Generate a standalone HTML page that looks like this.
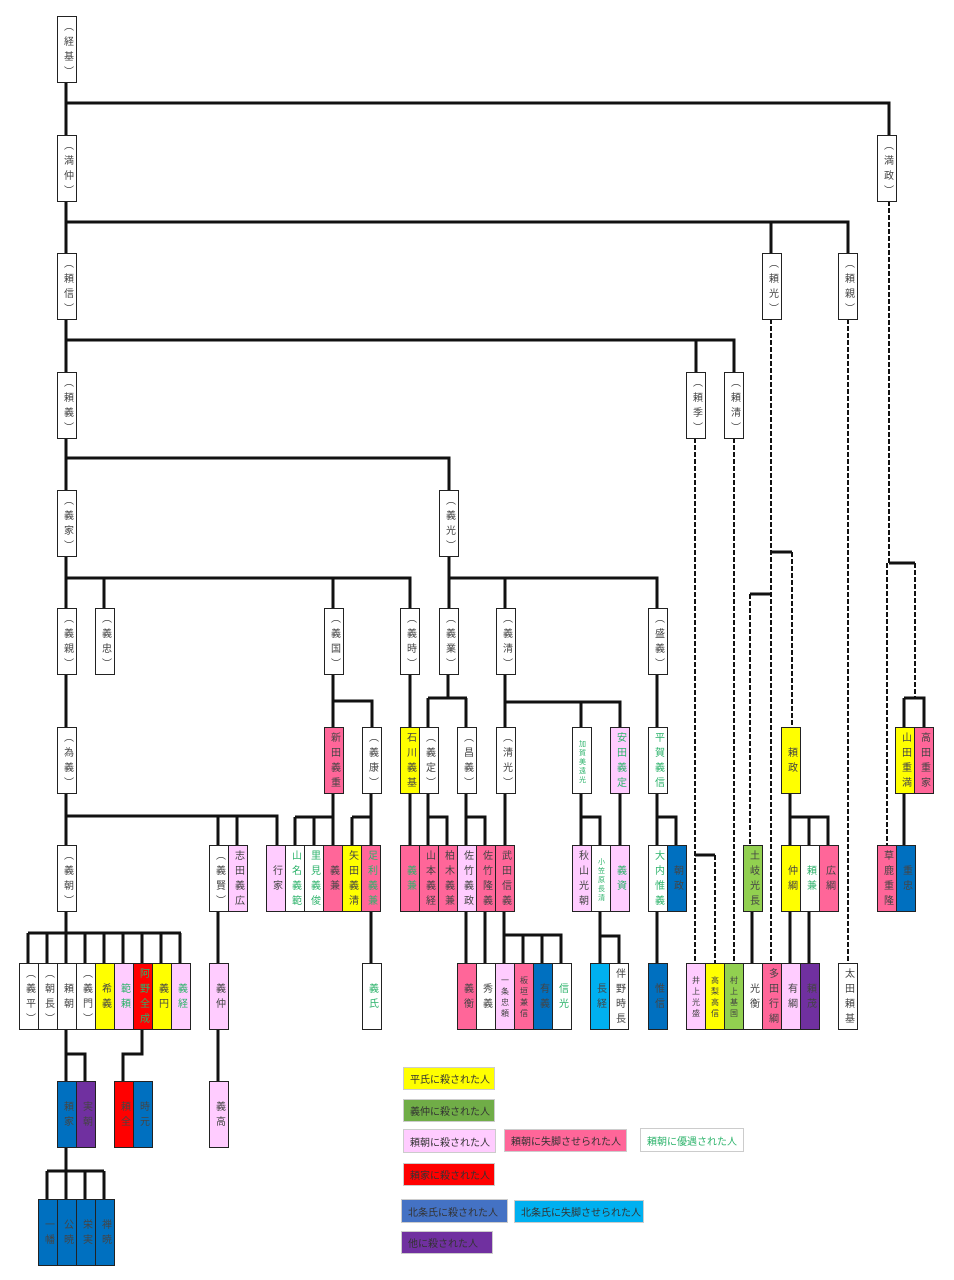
<!DOCTYPE html>
<html><head><meta charset="utf-8"><style>
body{margin:0;width:954px;height:1280px;background:#fff;position:relative;overflow:hidden;font-family:"Liberation Sans","Noto Sans CJK JP",sans-serif}
svg{position:absolute;left:0;top:0}
.b{position:absolute;box-sizing:border-box;width:20px;height:67px;border:1.5px solid #222;background:#fff;writing-mode:vertical-rl;display:flex;align-items:center;justify-content:center;font-size:10px;letter-spacing:5px;color:#444;line-height:17px;padding-top:3px}
.s{font-size:8px;letter-spacing:3px}
.xs{font-size:7px;letter-spacing:2px}
.r0{top:16px}.r1{top:135px}.r2{top:253px}.r3{top:372px}.r4{top:490px}.r5{top:608px}.r6{top:727px}.r7{top:845px}.r8{top:963px}.r9{top:1081px}.r10{top:1199px}
.Y{background:#ffff00}.P{background:#ff6699}.L{background:#ffccff}.B{background:#0070c0}.C{background:#00b0f0}.R{background:#ff0000}.V{background:#7030a0}.G{background:#92d050}
.g{color:#2db36b}
.lg{position:absolute;box-sizing:border-box;border:1px solid #ccc;font-size:10px;color:#333;padding-left:6px;display:flex;align-items:center}
</style></head><body>
<svg width="954" height="1280">
<g stroke="#111" stroke-width="3" fill="none">
<path d="M66 82V1199"/>
<path d="M66 103H889V135"/>
<path d="M66 222H848V253M771 222V253"/>
<path d="M66 340H734V372M696 340V372"/>
<path d="M66 458H449V490"/>
<path d="M66 578H410V608M104 578V608M333 578V608"/>
<path d="M449 556V608M449 578H657V608M505 578V608"/>
<path d="M333 674V845M333 701H372V727M371 793V845"/>
<path d="M410 674V845"/>
<path d="M448 674V698M428 698H467M428 698V845M466 698V845"/>
<path d="M505 674V845M505 702H620V845M581 702V845"/>
<path d="M657 674V963M657 817H676V845"/>
<path d="M66 816H277V845M218 816V1081M237 816V845"/>
<path d="M295 817H333M295 817V845M314 817V845"/>
<path d="M352 817H371M352 817V845"/>
<path d="M428 817H447V845"/>
<path d="M466 817H485V963"/>
<path d="M581 817H600V963M600 936H619V963"/>
<path d="M790 793V963M790 817H828V845M809 817V963"/>
<path d="M904 698H924V727M904 698V845"/>
<path d="M752 911V963"/>
<path d="M466 911V963M504 911V963M504 935H561V963M523 935V963M542 935V963"/>
<path d="M371 911V963"/>
<path d="M28 933H181M28 933V963M47 933V963M85 933V963M104 933V963M123 933V963M142 933V963M161 933V963M180 933V963"/>
<path d="M66 1054H85V1081M142 1029V1054H123V1081"/>
<path d="M47 1171H104M47 1171V1199M85 1171V1199M104 1171V1199"/>
<path d="M889 563H915M772 552H792M750 594H770M695 855H715"/>
</g>
<g stroke="#111" stroke-width="2" fill="none" stroke-dasharray="5 2">
<path d="M889 201V563M887 563V845M915 563V698"/>
<path d="M771 319V963M792 552V727M750 594V845"/>
<path d="M848 319V963"/>
<path d="M695 438V963M715 855V963"/>
<path d="M734 438V963"/>
</g>
</svg>

<div class="b r0" style="left:57px">（経基）</div>
<div class="b r1" style="left:57px">（満仲）</div>
<div class="b r1" style="left:877px">（満政）</div>
<div class="b r2" style="left:57px">（頼信）</div>
<div class="b r2" style="left:762px">（頼光）</div>
<div class="b r2" style="left:838px">（頼親）</div>
<div class="b r3" style="left:57px">（頼義）</div>
<div class="b r3" style="left:686px">（頼季）</div>
<div class="b r3" style="left:724px">（頼清）</div>
<div class="b r4" style="left:57px">（義家）</div>
<div class="b r4" style="left:439px">（義光）</div>

<div class="b r5" style="left:57px">（義親）</div>
<div class="b r5" style="left:95px">（義忠）</div>
<div class="b r5" style="left:324px">（義国）</div>
<div class="b r5" style="left:400px">（義時）</div>
<div class="b r5" style="left:439px">（義業）</div>
<div class="b r5" style="left:496px">（義清）</div>
<div class="b r5" style="left:648px">（盛義）</div>

<div class="b r6" style="left:57px">（為義）</div>
<div class="b r6 P" style="left:324px">新田義重</div>
<div class="b r6" style="left:362px">（義康）</div>
<div class="b r6 Y" style="left:400px">石川義基</div>
<div class="b r6" style="left:419px">（義定）</div>
<div class="b r6" style="left:457px">（昌義）</div>
<div class="b r6" style="left:496px">（清光）</div>
<div class="b r6 g xs" style="left:572px">加賀美遠光</div>
<div class="b r6 L g" style="left:610px">安田義定</div>
<div class="b r6 g" style="left:648px">平賀義信</div>
<div class="b r6 Y" style="left:781px">頼政</div>
<div class="b r6 Y" style="left:895px">山田重満</div>
<div class="b r6 P" style="left:914px">高田重家</div>

<div class="b r7" style="left:57px">（義朝）</div>
<div class="b r7" style="left:209px">（義賢）</div>
<div class="b r7 L" style="left:228px">志田義広</div>
<div class="b r7 L" style="left:266px">行家</div>
<div class="b r7 g" style="left:285px">山名義範</div>
<div class="b r7 g" style="left:304px">里見義俊</div>
<div class="b r7 P" style="left:323px">義兼</div>
<div class="b r7 Y" style="left:342px">矢田義清</div>
<div class="b r7 P g" style="left:361px">足利義兼</div>
<div class="b r7 P g" style="left:400px">義兼</div>
<div class="b r7 P" style="left:419px">山本義経</div>
<div class="b r7 P" style="left:438px">柏木義兼</div>
<div class="b r7 L" style="left:457px">佐竹義政</div>
<div class="b r7 P" style="left:476px">佐竹隆義</div>
<div class="b r7 P" style="left:495px">武田信義</div>
<div class="b r7 L" style="left:572px">秋山光朝</div>
<div class="b r7 g xs" style="left:591px">小笠原長清</div>
<div class="b r7 L g" style="left:610px">義資</div>
<div class="b r7 g" style="left:648px">大内惟義</div>
<div class="b r7 B" style="left:667px">朝政</div>
<div class="b r7 G" style="left:743px">土岐光長</div>
<div class="b r7 Y" style="left:781px">仲綱</div>
<div class="b r7 g" style="left:800px">頼兼</div>
<div class="b r7 P" style="left:819px">広綱</div>
<div class="b r7 P" style="left:877px">草鹿重隆</div>
<div class="b r7 B" style="left:896px">重忠</div>

<div class="b r8" style="left:19px">（義平）</div>
<div class="b r8" style="left:38px">（朝長）</div>
<div class="b r8" style="left:57px">頼朝</div>
<div class="b r8" style="left:76px">（義門）</div>
<div class="b r8 Y" style="left:95px">希義</div>
<div class="b r8 L g" style="left:114px">範頼</div>
<div class="b r8 R g" style="left:133px">阿野全成</div>
<div class="b r8 Y" style="left:152px">義円</div>
<div class="b r8 L g" style="left:171px">義経</div>
<div class="b r8 L" style="left:209px">義仲</div>
<div class="b r8 g" style="left:362px">義氏</div>
<div class="b r8 P" style="left:457px">義衡</div>
<div class="b r8" style="left:476px">秀義</div>
<div class="b r8 L s" style="left:495px">一条忠頼</div>
<div class="b r8 P s" style="left:514px">板垣兼信</div>
<div class="b r8 B" style="left:533px">有義</div>
<div class="b r8 g" style="left:552px">信光</div>
<div class="b r8 C" style="left:590px">長経</div>
<div class="b r8" style="left:609px">伴野時長</div>
<div class="b r8 B" style="left:648px">惟信</div>
<div class="b r8 L s" style="left:686px">井上光盛</div>
<div class="b r8 Y s" style="left:705px">高梨高信</div>
<div class="b r8 G s" style="left:724px">村上基国</div>
<div class="b r8" style="left:743px">光衡</div>
<div class="b r8 P" style="left:762px">多田行綱</div>
<div class="b r8 L" style="left:781px">有綱</div>
<div class="b r8 V" style="left:800px">頼茂</div>
<div class="b r8" style="left:838px">太田頼基</div>

<div class="b r9 B" style="left:57px">頼家</div>
<div class="b r9 V" style="left:76px">実朝</div>
<div class="b r9 R" style="left:114px">頼全</div>
<div class="b r9 B" style="left:133px">時元</div>
<div class="b r9 L" style="left:209px">義高</div>

<div class="b r10 B" style="left:38px">一幡</div>
<div class="b r10 B" style="left:57px">公暁</div>
<div class="b r10 B" style="left:76px">栄実</div>
<div class="b r10 B" style="left:95px">禅暁</div>

<div class="lg" style="left:403px;top:1067px;width:92px;height:23px;background:#ffff00">平氏に殺された人</div>
<div class="lg" style="left:403px;top:1099px;width:92px;height:23px;background:#70ad47">義仲に殺された人</div>
<div class="lg" style="left:403px;top:1129px;width:93px;height:24px;background:#ffccff">頼朝に殺された人</div>
<div class="lg" style="left:504px;top:1129px;width:123px;height:23px;background:#ff6699">頼朝に失脚させられた人</div>
<div class="lg" style="left:640px;top:1128px;width:104px;height:24px;background:#fff;color:#2db36b">頼朝に優遇された人</div>
<div class="lg" style="left:403px;top:1163px;width:92px;height:23px;background:#ff0000">頼家に殺された人</div>
<div class="lg" style="left:401px;top:1199px;width:107px;height:24px;background:#4472c4">北条氏に殺された人</div>
<div class="lg" style="left:514px;top:1200px;width:130px;height:23px;background:#00b0f0">北条氏に失脚させられた人</div>
<div class="lg" style="left:401px;top:1231px;width:92px;height:23px;background:#7030a0">他に殺された人</div>
</body></html>
